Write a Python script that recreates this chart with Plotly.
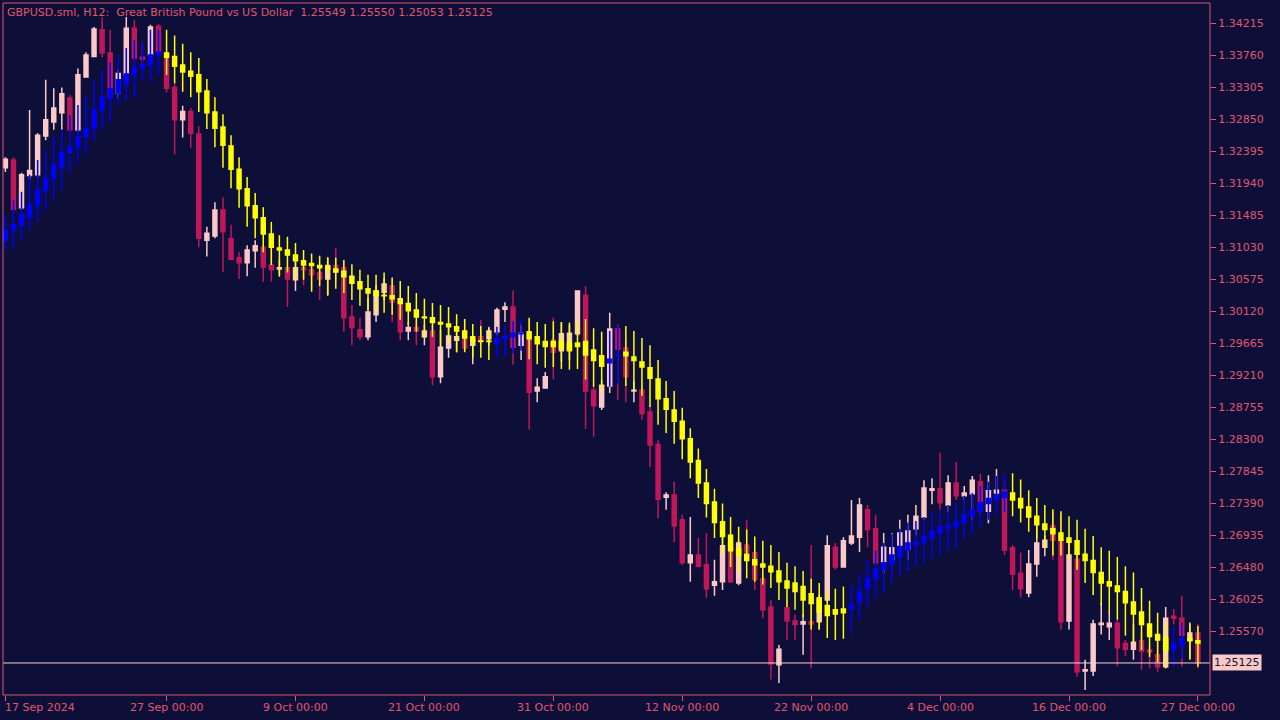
import plotly.graph_objects as go

# GBPUSD H12 price candles
opens = [1.3216, 1.3227, 1.3159, 1.3205, 1.3206, 1.3261, 1.3281, 1.3294, 1.3315, 1.3270,
         1.3345, 1.3374, 1.3412, 1.3379, 1.3322, 1.3348, 1.3414, 1.3373, 1.3376, 1.3417,
         1.3372, 1.3330, 1.3284, 1.3296, 1.3264, 1.3113, 1.3119, 1.3156, 1.3115, 1.3088,
         1.3081, 1.3098, 1.3103, 1.3078, 1.3072, 1.3074, 1.3057, 1.3074, 1.3071, 1.3067,
         1.3058, 1.3077, 1.3074, 1.3004, 1.2986, 1.2976, 1.3007, 1.3039, 1.3048, 1.3028,
         1.2984, 1.2989, 1.2976, 1.2984, 1.2919, 1.2960, 1.2971, 1.2974, 1.2964, 1.2976,
         1.2973, 1.2983, 1.3015, 1.3018, 1.2964, 1.2973, 1.2899, 1.2903, 1.2971, 1.2956,
         1.2957, 1.2980, 1.3035, 1.2900, 1.2876, 1.2906, 1.2987, 1.2960, 1.2899, 1.2900,
         1.2869, 1.2823, 1.2748, 1.2751, 1.2716, 1.2655, 1.2666, 1.2652, 1.2623, 1.2628,
         1.2680, 1.2626, 1.2680, 1.2669, 1.2632, 1.2592, 1.2510, 1.2591, 1.2572, 1.2568,
         1.2571, 1.2571, 1.2602, 1.2677, 1.2649, 1.2683, 1.2691, 1.2730, 1.2703, 1.2656,
         1.2659, 1.2680, 1.2674, 1.2703, 1.2720, 1.2758, 1.2760, 1.2737, 1.2768, 1.2750,
         1.2753, 1.2770, 1.2728, 1.2754, 1.2758, 1.2676, 1.2640, 1.2612, 1.2653, 1.2677,
         1.2707, 1.2687, 1.2572, 1.2660, 1.2501, 1.2501, 1.2567, 1.2564, 1.2569, 1.2540,
         1.2532, 1.2544, 1.2531, 1.2524, 1.2507, 1.2579, 1.2576, 1.2545, 1.2555]
highs = [1.3231, 1.3231, 1.3209, 1.3298, 1.3265, 1.3341, 1.3329, 1.3330, 1.3319, 1.3357,
         1.3380, 1.3416, 1.3430, 1.3412, 1.3355, 1.3430, 1.3426, 1.3395, 1.3419, 1.3420,
         1.3383, 1.3337, 1.3304, 1.3301, 1.3275, 1.3132, 1.3167, 1.3174, 1.3135, 1.3096,
         1.3106, 1.3113, 1.3106, 1.3102, 1.3085, 1.3078, 1.3082, 1.3078, 1.3075, 1.3071,
         1.3088, 1.3102, 1.3082, 1.3021, 1.3003, 1.3031, 1.3049, 1.3059, 1.3059, 1.3035,
         1.2997, 1.3000, 1.2993, 1.2993, 1.2986, 1.2993, 1.2986, 1.3001, 1.2978, 1.3000,
         1.2990, 1.3017, 1.3025, 1.3042, 1.2993, 1.3000, 1.2917, 1.2926, 1.3003, 1.2997,
         1.2993, 1.3042, 1.3048, 1.2910, 1.2914, 1.3010, 1.2993, 1.2971, 1.2913, 1.2907,
         1.2879, 1.2829, 1.2755, 1.2770, 1.2723, 1.2720, 1.2690, 1.2697, 1.2659, 1.2693,
         1.2687, 1.2687, 1.2716, 1.2673, 1.2639, 1.2602, 1.2538, 1.2602, 1.2581, 1.2581,
         1.2680, 1.2609, 1.2694, 1.2683, 1.2691, 1.2744, 1.2747, 1.2737, 1.2723, 1.2697,
         1.2697, 1.2716, 1.2723, 1.2737, 1.2772, 1.2775, 1.2811, 1.2779, 1.2798, 1.2764,
         1.2778, 1.2781, 1.2779, 1.2788, 1.2772, 1.2680, 1.2669, 1.2673, 1.2709, 1.2694,
         1.2727, 1.2723, 1.2687, 1.2666, 1.2517, 1.2574, 1.2598, 1.2585, 1.2574, 1.2545,
         1.2567, 1.2557, 1.2538, 1.2545, 1.2592, 1.2589, 1.2608, 1.2567, 1.2568]
lows = [1.3210, 1.3152, 1.3156, 1.3199, 1.3202, 1.3255, 1.3270, 1.3270, 1.3267, 1.3267,
        1.3357, 1.3373, 1.3373, 1.3312, 1.3315, 1.3341, 1.3366, 1.3362, 1.3369, 1.3373,
        1.3323, 1.3235, 1.3259, 1.3244, 1.3103, 1.3090, 1.3116, 1.3068, 1.3085, 1.3058,
        1.3062, 1.3074, 1.3054, 1.3054, 1.3064, 1.3018, 1.3041, 1.3049, 1.3044, 1.3028,
        1.3034, 1.3054, 1.2983, 1.2964, 1.2971, 1.2971, 1.2997, 1.3028, 1.2997, 1.2971,
        1.2971, 1.2964, 1.2964, 1.2907, 1.2910, 1.2946, 1.2954, 1.2957, 1.2937, 1.2964,
        1.2964, 1.2978, 1.2997, 1.2936, 1.2943, 1.2844, 1.2883, 1.2906, 1.2915, 1.2940,
        1.2943, 1.2977, 1.2845, 1.2834, 1.2872, 1.2896, 1.2886, 1.2883, 1.2883, 1.2858,
        1.2791, 1.2718, 1.2730, 1.2684, 1.2652, 1.2628, 1.2648, 1.2605, 1.2608, 1.2616,
        1.2626, 1.2623, 1.2666, 1.2616, 1.2576, 1.2489, 1.2484, 1.2545, 1.2545, 1.2524,
        1.2505, 1.2560, 1.2599, 1.2645, 1.2648, 1.2680, 1.2670, 1.2677, 1.2652, 1.2640,
        1.2652, 1.2673, 1.2659, 1.2694, 1.2716, 1.2738, 1.2730, 1.2727, 1.2744, 1.2744,
        1.2716, 1.2723, 1.2711, 1.2744, 1.2666, 1.2616, 1.2606, 1.2606, 1.2635, 1.2664,
        1.2659, 1.2560, 1.2560, 1.2493, 1.2474, 1.2494, 1.2553, 1.2545, 1.2508, 1.2522,
        1.2517, 1.2503, 1.2505, 1.2500, 1.2505, 1.2567, 1.2507, 1.2517, 1.2505]
closes = [1.3228, 1.3157, 1.3206, 1.3212, 1.3262, 1.3284, 1.3301, 1.3321, 1.3270, 1.3348,
          1.3376, 1.3413, 1.3379, 1.3316, 1.3350, 1.3414, 1.3372, 1.3370, 1.3416, 1.3379,
          1.3329, 1.3284, 1.3296, 1.3265, 1.3116, 1.3123, 1.3156, 1.3125, 1.3086, 1.3081,
          1.3099, 1.3105, 1.3075, 1.3071, 1.3074, 1.3058, 1.3074, 1.3071, 1.3064, 1.3058,
          1.3077, 1.3068, 1.3003, 1.2989, 1.2976, 1.3011, 1.3041, 1.3051, 1.3025, 1.2983,
          1.2989, 1.2984, 1.2984, 1.2919, 1.2961, 1.2977, 1.2976, 1.2960, 1.2971, 1.2970,
          1.2984, 1.3014, 1.3018, 1.2961, 1.2981, 1.2897, 1.2904, 1.2919, 1.2954, 1.2980,
          1.2981, 1.3041, 1.2899, 1.2878, 1.2907, 1.2987, 1.2958, 1.2919, 1.2900, 1.2867,
          1.2822, 1.2745, 1.2751, 1.2707, 1.2655, 1.2666, 1.2650, 1.2618, 1.2628, 1.2679,
          1.2628, 1.2683, 1.2670, 1.2631, 1.2588, 1.2511, 1.2532, 1.2572, 1.2567, 1.2571,
          1.2568, 1.2603, 1.2679, 1.2649, 1.2686, 1.2693, 1.2737, 1.2702, 1.2655, 1.2677,
          1.2676, 1.2697, 1.2700, 1.2721, 1.2761, 1.2760, 1.2740, 1.2768, 1.2750, 1.2754,
          1.2772, 1.2728, 1.2757, 1.2758, 1.2673, 1.2639, 1.2618, 1.2653, 1.2683, 1.2687,
          1.2687, 1.2571, 1.2666, 1.2500, 1.2503, 1.2568, 1.2569, 1.2569, 1.2534, 1.2532,
          1.2542, 1.2529, 1.2528, 1.2507, 1.2576, 1.2576, 1.2552, 1.2555, 1.25125]

# trend indicator candles: body top / bottom, wick high / low
ind_top = [1.3128, 1.3135, 1.3149, 1.3163, 1.3184, 1.3201, 1.3220, 1.3238, 1.3245, 1.3260,
           1.3272, 1.3298, 1.3316, 1.3328, 1.3341, 1.3349, 1.3358, 1.3362, 1.3376, 1.3380,
           1.3379, 1.3374, 1.3362, 1.3353, 1.3348, 1.3325, 1.3295, 1.3274, 1.3247, 1.3214,
           1.3186, 1.3162, 1.3145, 1.3122, 1.3102, 1.3099, 1.3092, 1.3084, 1.3080, 1.3077,
           1.3075, 1.3072, 1.3069, 1.3062, 1.3054, 1.3044, 1.3041, 1.3035, 1.3034, 1.3030,
           1.3023, 1.3014, 1.3004, 1.3003, 1.2996, 1.2994, 1.2990, 1.2984, 1.2976, 1.2970,
           1.2970, 1.2973, 1.2976, 1.2981, 1.2981, 1.2983, 1.2976, 1.2969, 1.2969, 1.2969,
           1.2967, 1.2967, 1.2969, 1.2957, 1.2949, 1.2944, 1.2950, 1.2954, 1.2947, 1.2940,
           1.2932, 1.2916, 1.2888, 1.2872, 1.2856, 1.2831, 1.2800, 1.2768, 1.2741, 1.2713,
           1.2694, 1.2675, 1.2667, 1.2659, 1.2653, 1.2650, 1.2643, 1.2629, 1.2626, 1.2621,
           1.2611, 1.2605, 1.2594, 1.2588, 1.2589, 1.2595, 1.2614, 1.2633, 1.2646, 1.2655,
           1.2666, 1.2677, 1.2683, 1.2684, 1.2692, 1.2700, 1.2706, 1.2707, 1.2713, 1.2723,
           1.2730, 1.2740, 1.2746, 1.2751, 1.2755, 1.2754, 1.2746, 1.2734, 1.2721, 1.2710,
           1.2703, 1.2697, 1.2690, 1.2686, 1.2667, 1.2658, 1.2641, 1.2628, 1.2622, 1.2614,
           1.2599, 1.2585, 1.2568, 1.2553, 1.2548, 1.2540, 1.2547, 1.2547, 1.2544]
ind_bot = [1.3113, 1.3128, 1.3135, 1.3146, 1.3163, 1.3184, 1.3201, 1.3217, 1.3238, 1.3245,
           1.3260, 1.3272, 1.3298, 1.3315, 1.3322, 1.3335, 1.3348, 1.3358, 1.3362, 1.3376,
           1.3373, 1.3360, 1.3352, 1.3346, 1.3324, 1.3294, 1.3272, 1.3248, 1.3214, 1.3186,
           1.3162, 1.3145, 1.3122, 1.3103, 1.3099, 1.3092, 1.3084, 1.3078, 1.3077, 1.3074,
           1.3072, 1.3068, 1.3061, 1.3052, 1.3044, 1.3038, 1.3035, 1.3034, 1.3030, 1.3023,
           1.3013, 1.3004, 1.3003, 1.2996, 1.2994, 1.2990, 1.2984, 1.2974, 1.2969, 1.2969,
           1.2969, 1.2967, 1.2973, 1.2976, 1.2980, 1.2973, 1.2966, 1.2962, 1.2962, 1.2960,
           1.2956, 1.2962, 1.2950, 1.2942, 1.2934, 1.2939, 1.2949, 1.2949, 1.2942, 1.2933,
           1.2917, 1.2888, 1.2873, 1.2856, 1.2831, 1.2798, 1.2768, 1.2739, 1.2712, 1.2692,
           1.2672, 1.2666, 1.2658, 1.2652, 1.2649, 1.2642, 1.2628, 1.2619, 1.2614, 1.2602,
           1.2597, 1.2585, 1.2580, 1.2582, 1.2584, 1.2589, 1.2599, 1.2618, 1.2632, 1.2645,
           1.2653, 1.2663, 1.2673, 1.2680, 1.2684, 1.2690, 1.2697, 1.2704, 1.2706, 1.2712,
           1.2721, 1.2728, 1.2739, 1.2744, 1.2748, 1.2744, 1.2733, 1.2720, 1.2709, 1.2702,
           1.2696, 1.2687, 1.2684, 1.2667, 1.2658, 1.2641, 1.2626, 1.2622, 1.2614, 1.2598,
           1.2582, 1.2567, 1.2550, 1.2545, 1.2531, 1.2531, 1.2538, 1.2544, 1.2541]
ind_hi = [1.3149, 1.3170, 1.3182, 1.3206, 1.3227, 1.3241, 1.3262, 1.3270, 1.3291, 1.3305,
          1.3319, 1.3341, 1.3355, 1.3366, 1.3376, 1.3386, 1.3397, 1.3395, 1.3412, 1.3412,
          1.3412, 1.3404, 1.3392, 1.3380, 1.3372, 1.3342, 1.3316, 1.3292, 1.3262, 1.3231,
          1.3203, 1.3180, 1.3160, 1.3139, 1.3120, 1.3118, 1.3109, 1.3099, 1.3094, 1.3091,
          1.3089, 1.3088, 1.3085, 1.3079, 1.3071, 1.3064, 1.3064, 1.3067, 1.3060, 1.3055,
          1.3048, 1.3038, 1.3030, 1.3024, 1.3021, 1.3018, 1.3008, 1.3001, 1.2994, 1.2991,
          1.2988, 1.2990, 1.2993, 1.2998, 1.3001, 1.3003, 1.2997, 1.2994, 1.2998, 1.2996,
          1.2996, 1.2998, 1.3001, 1.2988, 1.2983, 1.2984, 1.2991, 1.2991, 1.2984, 1.2974,
          1.2964, 1.2943, 1.2913, 1.2899, 1.2875, 1.2846, 1.2817, 1.2788, 1.2760, 1.2739,
          1.2720, 1.2706, 1.2702, 1.2692, 1.2686, 1.2680, 1.2670, 1.2655, 1.2650, 1.2643,
          1.2632, 1.2626, 1.2616, 1.2618, 1.2621, 1.2623, 1.2639, 1.2659, 1.2672, 1.2683,
          1.2696, 1.2703, 1.2712, 1.2714, 1.2720, 1.2728, 1.2731, 1.2737, 1.2741, 1.2750,
          1.2754, 1.2764, 1.2770, 1.2778, 1.2782, 1.2782, 1.2773, 1.2758, 1.2747, 1.2737,
          1.2731, 1.2728, 1.2721, 1.2716, 1.2703, 1.2693, 1.2677, 1.2672, 1.2663, 1.2650,
          1.2641, 1.2619, 1.2601, 1.2584, 1.2570, 1.2563, 1.2570, 1.2570, 1.2565]
ind_lo = [1.3099, 1.3102, 1.3113, 1.3128, 1.3139, 1.3156, 1.3170, 1.3184, 1.3209, 1.3223,
          1.3234, 1.3255, 1.3270, 1.3281, 1.3305, 1.3312, 1.3316, 1.3341, 1.3338, 1.3348,
          1.3348, 1.3336, 1.3324, 1.3316, 1.3295, 1.3271, 1.3245, 1.3216, 1.3187, 1.3159,
          1.3132, 1.3116, 1.3096, 1.3078, 1.3061, 1.3067, 1.3057, 1.3057, 1.3040, 1.3048,
          1.3035, 1.3044, 1.3038, 1.3028, 1.3020, 1.3014, 1.3011, 1.3010, 1.3007, 1.3000,
          1.2993, 1.2983, 1.2974, 1.2976, 1.2961, 1.2967, 1.2954, 1.2954, 1.2946, 1.2946,
          1.2943, 1.2946, 1.2949, 1.2952, 1.2956, 1.2944, 1.2937, 1.2932, 1.2933, 1.2930,
          1.2929, 1.2930, 1.2915, 1.2905, 1.2898, 1.2905, 1.2908, 1.2906, 1.2899, 1.2892,
          1.2876, 1.2851, 1.2839, 1.2824, 1.2802, 1.2775, 1.2747, 1.2719, 1.2690, 1.2666,
          1.2649, 1.2641, 1.2633, 1.2628, 1.2624, 1.2619, 1.2602, 1.2592, 1.2588, 1.2578,
          1.2560, 1.2560, 1.2548, 1.2545, 1.2547, 1.2555, 1.2575, 1.2592, 1.2605, 1.2612,
          1.2626, 1.2635, 1.2643, 1.2649, 1.2655, 1.2660, 1.2666, 1.2672, 1.2675, 1.2689,
          1.2697, 1.2706, 1.2716, 1.2723, 1.2727, 1.2721, 1.2712, 1.2699, 1.2689, 1.2677,
          1.2665, 1.2665, 1.2660, 1.2645, 1.2626, 1.2609, 1.2595, 1.2584, 1.2574, 1.2551,
          1.2541, 1.2531, 1.2521, 1.2513, 1.2505, 1.2507, 1.2518, 1.2518, 1.2507]
# u = up (blue), d = down (yellow)
ind_trend = ("uuuuuuuuuuuuuuuuuuuu"
             "ddddddddddddddddddddddddddddddddddddddddd"
             "uuuu" "dddddddddd" "uu"
             "dddddddddddddddddddddddddddd"
             "uuuuuuuuuuuuuuuuuuuu"
             "dddddddddddddddddddd" "uu" "dd")

tick_pos = [0, 20, 36, 52, 68, 84, 100, 116, 132, 148]
tick_text = ["17 Sep 2024", "27 Sep 00:00", "9 Oct 00:00", "21 Oct 00:00", "31 Oct 00:00",
             "12 Nov 00:00", "22 Nov 00:00", "4 Dec 00:00", "16 Dec 00:00", "27 Dec 00:00"]
y_ticks = [1.34215, 1.33760, 1.33305, 1.32850, 1.32395, 1.31940, 1.31485, 1.31030, 1.30575,
           1.30120, 1.29665, 1.29210, 1.28755, 1.28300, 1.27845, 1.27390, 1.26935, 1.26480,
           1.26025, 1.25570]
last_price = 1.25125

BG = "#0d0f38"
AX = "#e0566e"
BULL, BEAR = "#fcc9c9", "#c0175a"

fig = go.Figure()
x = list(range(len(closes)))
fig.add_trace(go.Candlestick(
    x=x, open=opens, high=highs, low=lows, close=closes,
    increasing=dict(line=dict(color=BULL, width=1.5), fillcolor=BULL),
    decreasing=dict(line=dict(color=BEAR, width=1.5), fillcolor=BEAR),
    whiskerwidth=0, hoverinfo="skip", showlegend=False))

for trend, col in (("u", "#0000ff"), ("d", "#ffff00")):
    idx = [i for i, t in enumerate(ind_trend) if t == trend]
    fig.add_trace(go.Candlestick(
        x=idx,
        open=[ind_bot[i] for i in idx], close=[ind_top[i] for i in idx],
        high=[ind_hi[i] for i in idx], low=[ind_lo[i] for i in idx],
        increasing=dict(line=dict(color=col, width=1.5), fillcolor=col),
        decreasing=dict(line=dict(color=col, width=1.5), fillcolor=col),
        whiskerwidth=0, hoverinfo="skip", showlegend=False))

fig.add_shape(type="line", xref="paper", x0=0, x1=1, y0=last_price, y1=last_price,
              line=dict(color="#f2d6d6", width=1))
fig.add_shape(type="rect", xref="paper", yref="paper", x0=0, x1=1, y0=0, y1=1,
              line=dict(color=AX, width=1))

ann = [dict(text="GBPUSD.sml, H12:  Great British Pound vs US Dollar  1.25549 1.25550 1.25053 1.25125",
            xref="paper", yref="paper", x=0.002, y=0.999, xanchor="left", yanchor="top",
            showarrow=False, font=dict(color=AX, size=11)),
       dict(text="1.25125", xref="paper", x=1.002, y=last_price, xanchor="left",
            showarrow=False, bgcolor=BULL, font=dict(color="#111133", size=11), borderpad=1)]
for p, t in zip(tick_pos, tick_text):
    ann.append(dict(text=t, x=p, xref="x", yref="paper", y=-0.006, yanchor="top",
                    xanchor="left" if p == 0 else "center", showarrow=False,
                    font=dict(color=AX, size=11)))
ann[2]["x"] = -0.3

fig.update_layout(
    width=1280, height=720,
    margin=dict(l=3, r=70, t=3, b=25, autoexpand=False),
    paper_bgcolor=BG, plot_bgcolor=BG,
    font=dict(family="DejaVu Sans", color=AX, size=11),
    annotations=ann,
    xaxis=dict(range=[-0.3, 149.5], showgrid=False, zeroline=False, rangeslider=dict(visible=False),
               tickvals=tick_pos, ticktext=[""] * len(tick_pos), ticks="outside", ticklen=5,
               tickcolor=AX, showline=False),
    yaxis=dict(range=[1.2467, 1.3450], side="right", showgrid=False, zeroline=False,
               tickvals=y_ticks, ticktext=["%.5f" % v for v in y_ticks], ticks="outside",
               ticklen=5, tickcolor=AX, tickfont=dict(color=AX, size=11)),
)

fig.write_html("out.html", config={"displayModeBar": False},
               post_script="document.body.style.margin='0';document.body.style.background='%s';" % BG)
